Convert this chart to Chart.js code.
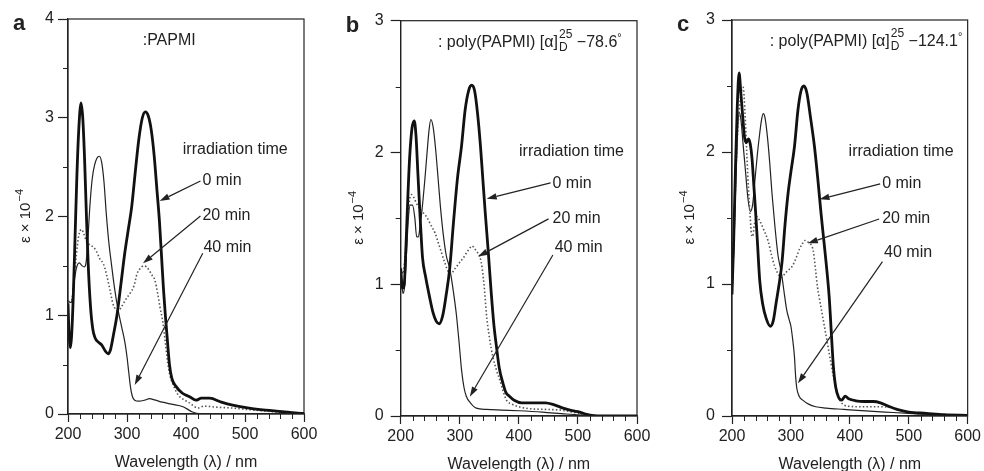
<!DOCTYPE html>
<html>
<head>
<meta charset="utf-8">
<script src="https://cdn.jsdelivr.net/npm/chart.js@4.4.1/dist/chart.umd.min.js"></script>
<style>
  html, body { margin: 0; padding: 0; background: #fff; }
  #wrap { position: relative; width: 984px; height: 471px; overflow: hidden; }
  canvas { position: absolute; top: 0; }
</style>
</head>
<body>
<div id="wrap">
  <canvas id="panelA" width="328" height="471" style="left:0px"></canvas>
  <canvas id="panelB" width="328" height="471" style="left:328px"></canvas>
  <canvas id="panelC" width="328" height="471" style="left:656px"></canvas>
</div>
<script>
// ---- data: [wavelength nm, epsilon x 1e-4] ----
const seriesLabels = ['0 min', '20 min', '40 min'];

// panel a : PAPMI
const a0min = [[200,1.12],[202,0.78],[204,0.67],[206,0.78],[209,1.2],[212,1.8],[215,2.4],[218,2.85],[222,3.15],[225,3.0],[228,2.6],[231,2.05],[234,1.55],[238,1.1],[242,0.86],[246,0.77],[251,0.73],[257,0.7],[263,0.64],[268,0.61],[272,0.65],[277,0.8],[283,1.0],[290,1.33],[296,1.62],[302,1.86],[308,2.1],[314,2.45],[320,2.78],[326,3.0],[331,3.06],[336,3.02],[341,2.88],[346,2.62],[351,2.25],[355,1.95],[359,1.55],[362,1.25],[365,1.0],[368,0.78],[372,0.5],[376,0.36],[383,0.28],[394,0.21],[406,0.175],[417,0.14],[426,0.16],[440,0.16],[460,0.12],[479,0.09],[507,0.06],[535,0.04],[563,0.025],[585,0.01],[600,0.005]];
const a20min = [[200,1.14],[206,1.15],[210,1.35],[214,1.6],[218,1.8],[223,1.87],[227,1.82],[232,1.74],[238,1.71],[243,1.69],[248,1.65],[254,1.57],[260,1.52],[265,1.42],[271,1.26],[276,1.12],[281,1.06],[286,1.05],[292,1.1],[299,1.17],[306,1.23],[312,1.3],[317,1.42],[322,1.47],[328,1.5],[333,1.49],[338,1.45],[343,1.4],[347,1.36],[352,1.22],[356,1.08],[361,0.92],[365,0.72],[369,0.52],[372,0.41],[378,0.3],[386,0.2],[395,0.15],[404,0.12],[411,0.09],[420,0.06],[431,0.08],[450,0.07],[479,0.06],[505,0.045],[535,0.03],[565,0.015],[600,0.005]];
const a40min = [[200,1.14],[206,1.13],[210,1.32],[214,1.47],[219,1.53],[224,1.5],[228,1.49],[231,1.55],[234,1.8],[237,2.1],[241,2.38],[245,2.52],[249,2.59],[253,2.61],[257,2.55],[261,2.35],[265,2.02],[269,1.75],[274,1.5],[279,1.27],[285,1.05],[291,0.88],[296,0.74],[300,0.58],[303,0.42],[306,0.27],[309,0.18],[313,0.14],[320,0.13],[330,0.14],[338,0.155],[348,0.14],[360,0.12],[375,0.1],[395,0.074],[411,0.02],[423,0.003],[440,0.003],[600,0.002]];

// panel b : poly(PAPMI) -78.6
const b0min = [[200,1.12],[203,0.97],[206,1.0],[209,1.3],[212,1.65],[215,1.95],[219,2.18],[223,2.24],[226,2.12],[229,1.85],[233,1.5],[237,1.2],[242,1.06],[249,0.9],[255,0.78],[260,0.72],[265,0.7],[271,0.76],[277,0.92],[283,1.12],[289,1.45],[296,1.8],[303,2.05],[309,2.32],[315,2.47],[320,2.51],[325,2.47],[330,2.3],[335,2.05],[339,1.8],[343,1.55],[348,1.26],[353,0.95],[358,0.68],[362,0.53],[367,0.36],[373,0.25],[378,0.18],[384,0.15],[392,0.12],[405,0.1],[420,0.1],[432,0.1],[445,0.1],[460,0.085],[475,0.06],[490,0.04],[503,0.03],[515,0.012],[527,0.003],[540,0],[600,0]];
const b20min = [[200,1.12],[204,1.08],[208,1.25],[212,1.5],[215,1.64],[218,1.68],[222,1.66],[226,1.62],[230,1.59],[237,1.55],[244,1.51],[251,1.45],[258,1.39],[264,1.31],[269,1.24],[275,1.16],[280,1.1],[285,1.08],[292,1.12],[299,1.16],[306,1.2],[313,1.25],[318,1.28],[321,1.29],[325,1.27],[330,1.24],[334,1.21],[338,1.12],[342,0.95],[345,0.78],[350,0.6],[356,0.45],[362,0.35],[368,0.27],[374,0.18],[379,0.12],[388,0.09],[400,0.07],[420,0.055],[445,0.05],[470,0.045],[490,0.03],[505,0.015],[520,0.005],[540,0],[600,0]];
const b40min = [[200,1.12],[202,1.0],[204,0.93],[207,1.0],[210,1.25],[213,1.5],[216,1.6],[220,1.6],[224,1.5],[227,1.36],[230,1.36],[233,1.45],[236,1.56],[241,1.8],[245,2.02],[248,2.17],[251,2.25],[255,2.19],[259,2.03],[263,1.82],[267,1.6],[272,1.38],[277,1.22],[283,1.12],[289,0.95],[294,0.78],[299,0.55],[303,0.35],[307,0.22],[311,0.15],[318,0.1],[328,0.06],[345,0.05],[370,0.045],[400,0.04],[440,0.03],[480,0.015],[520,0.005],[560,0],[600,0]];

// panel c : poly(PAPMI) -124.1
const c0min = [[200,0.92],[203,1.35],[206,1.9],[209,2.35],[212,2.6],[215,2.45],[218,2.28],[221,2.12],[224,2.07],[228,2.1],[231,2.06],[234,1.95],[237,1.75],[240,1.55],[243,1.33],[247,1.03],[252,0.85],[258,0.74],[265,0.68],[270,0.72],[275,0.86],[280,1.0],[285,1.17],[290,1.45],[295,1.68],[300,1.85],[306,2.04],[312,2.32],[317,2.46],[322,2.5],[327,2.45],[333,2.27],[340,2.04],[346,1.78],[351,1.54],[354,1.41],[360,1.15],[365,0.9],[369,0.6],[372,0.38],[376,0.22],[381,0.14],[386,0.12],[392,0.15],[398,0.13],[410,0.115],[425,0.11],[440,0.11],[452,0.1],[465,0.075],[480,0.05],[500,0.03],[530,0.02],[560,0.01],[600,0.005]];
const c20min = [[200,0.95],[203,1.3],[206,1.75],[209,2.1],[212,2.3],[216,2.46],[219,2.49],[222,2.3],[225,2.0],[228,1.72],[231,1.5],[233,1.38],[235,1.36],[238,1.45],[242,1.51],[248,1.47],[254,1.41],[261,1.33],[267,1.22],[272,1.14],[278,1.08],[284,1.05],[290,1.08],[297,1.11],[303,1.14],[309,1.2],[315,1.27],[320,1.31],[323,1.33],[328,1.32],[334,1.3],[338,1.25],[342,1.1],[345,0.98],[348,0.9],[354,0.75],[360,0.6],[364,0.5],[368,0.4],[373,0.28],[378,0.18],[383,0.12],[388,0.09],[395,0.075],[420,0.07],[450,0.07],[475,0.06],[490,0.04],[510,0.02],[540,0.01],[600,0.005]];
const c40min = [[200,0.93],[203,1.25],[206,1.7],[209,2.1],[212,2.3],[215,2.25],[219,2.05],[223,1.85],[227,1.65],[231,1.55],[235,1.6],[239,1.79],[243,1.98],[247,2.14],[250,2.24],[253,2.29],[256,2.26],[260,2.12],[264,1.92],[268,1.68],[273,1.43],[278,1.22],[284,1.08],[289,0.92],[293,0.8],[297,0.73],[300,0.68],[303,0.58],[306,0.45],[308,0.3],[310,0.21],[314,0.15],[320,0.12],[330,0.09],[342,0.07],[360,0.06],[390,0.05],[420,0.04],[460,0.03],[500,0.02],[550,0.01],[600,0.005]];

const xTitle = 'Wavelength (λ) / nm';
const panelTitleA = ':PAPMI';
const rotationB = '−78.6';
const rotationC = '−124.1';

// ---- look ----
const FAM = '"Liberation Sans", Arial, Helvetica, sans-serif';
const INK = '#222';
const FS = 16;

// annotation places are given in data units of each panel
const panels = [
  { id: 'panelA', letter: 'a', yMax: 4, series: [a0min, a20min, a40min],
    area: { left: 68, right: 304, top: 19, bottom: 414 }, yPad: 4,
    title: { text: panelTitleA, at: [326.6, 3.737] },
    irr: [483.5, 2.673],
    notes: [
      { at: [427.8, 2.36],  from: [424.5, 2.36],  to: [355.3, 2.157] },
      { at: [427.8, 2.005], from: [424.5, 2.005], to: [327.1, 1.526] },
      { at: [429.5, 1.681], from: [428.4, 1.627], to: [313.1, 0.294] }
    ] },
  { id: 'panelB', letter: 'b', yMax: 3, series: [b0min, b20min, b40min],
    area: { left: 72.7, right: 309, top: 20.7, bottom: 416 }, yPad: 7,
    title: { rot: rotationB, at: [263, 2.804] },
    irr: [489.1, 2.005],
    notes: [
      { at: [457, 1.762],   from: [453.7, 1.769], to: [345.6, 1.648] },
      { at: [457, 1.496],   from: [450.3, 1.496], to: [331, 1.21] },
      { at: [460.6, 1.276], from: [457.6, 1.222], to: [317, 0.147] }
    ] },
  { id: 'panelC', letter: 'c', yMax: 3, series: [c0min, c20min, c40min],
    area: { left: 76, right: 313, top: 20, bottom: 416 }, yPad: 7,
    title: { rot: rotationC, at: [264, 2.8] },
    irr: [487, 2.0],
    notes: [
      { at: [454.9, 1.758], from: [451.5, 1.758], to: [348.5, 1.642] },
      { at: [454.9, 1.492], from: [449.8, 1.492], to: [328.8, 1.308] },
      { at: [458.2, 1.235], from: [455.4, 1.169], to: [311.9, 0.248] }
    ] }
];

function arrow(ctx, x1, y1, x2, y2) {
  const ang = Math.atan2(y2 - y1, x2 - x1);
  const head = 10, half = 3.2;
  const bx = x2 - head * Math.cos(ang), by = y2 - head * Math.sin(ang);
  ctx.beginPath();
  ctx.moveTo(x1, y1);
  ctx.lineTo(bx, by);
  ctx.stroke();
  ctx.beginPath();
  ctx.moveTo(x2, y2);
  ctx.lineTo(bx + half * Math.sin(ang), by - half * Math.cos(ang));
  ctx.lineTo(bx - half * Math.sin(ang), by + half * Math.cos(ang));
  ctx.closePath();
  ctx.fill();
}

function makeDecor(p) {
  return {
    id: 'decor',
    afterDraw(chart) {
      const { ctx, chartArea: ca, scales: { x, y } } = chart;
      ctx.save();
      ctx.strokeStyle = INK;
      ctx.fillStyle = INK;

      // frame
      ctx.lineWidth = 1.2;
      ctx.strokeRect(ca.left, ca.top, ca.right - ca.left, ca.bottom - ca.top);

      // minor ticks
      ctx.lineWidth = 1;
      ctx.beginPath();
      for (let v = 220; v < 600; v += 20) {
        if (v % 100 === 0) continue;
        const px = Math.round(x.getPixelForValue(v)) + 0.5;
        ctx.moveTo(px, ca.bottom);
        ctx.lineTo(px, ca.bottom + 5);
      }
      for (let v = 0.5; v < p.yMax; v += 1) {
        const py = Math.round(y.getPixelForValue(v)) + 0.5;
        ctx.moveTo(ca.left, py);
        ctx.lineTo(ca.left - 5, py);
      }
      ctx.stroke();

      // panel letter
      ctx.font = `bold 22px ${FAM}`;
      ctx.textAlign = 'left';
      ctx.textBaseline = 'alphabetic';
      ctx.fillText(p.letter, ca.left - 55, ca.top + 11);

      // axis titles
      ctx.font = `${FS}px ${FAM}`;
      ctx.textAlign = 'center';
      ctx.fillText(xTitle, (ca.left + ca.right) / 2, ca.bottom + 53);

      ctx.save();
      ctx.translate(ca.left - 43, (ca.top + ca.bottom) / 2);
      ctx.rotate(-Math.PI / 2);
      ctx.font = `15px ${FAM}`;
      const mainT = 'ε × 10';
      const mw = ctx.measureText(mainT).width;
      ctx.font = `11px ${FAM}`;
      const sw = ctx.measureText('−4').width;
      const x0 = -(mw + sw) / 2;
      ctx.textAlign = 'left';
      ctx.font = `15px ${FAM}`;
      ctx.fillText(mainT, x0, 5);
      ctx.font = `11px ${FAM}`;
      ctx.fillText('−4', x0 + mw + 1, -2);
      ctx.restore();

      // panel title
      ctx.textAlign = 'left';
      ctx.textBaseline = 'alphabetic';
      let tx = x.getPixelForValue(p.title.at[0]);
      const ty = y.getPixelForValue(p.title.at[1]);
      ctx.font = `${FS}px ${FAM}`;
      if (p.title.text) {
        ctx.fillText(p.title.text, tx, ty);
      } else {
        const s1 = ': poly(PAPMI) [α]';
        ctx.fillText(s1, tx, ty);
        tx += ctx.measureText(s1).width;
        ctx.font = `12px ${FAM}`;
        ctx.fillText('25', tx + 1, ty - 9);
        ctx.fillText('D', tx + 1, ty + 4);
        tx += ctx.measureText('25').width + 1;
        ctx.font = `${FS}px ${FAM}`;
        const s2 = ' ' + p.title.rot;
        ctx.fillText(s2, tx, ty);
        tx += ctx.measureText(s2).width;
        ctx.font = `11px ${FAM}`;
        ctx.fillText('°', tx, ty - 6);
      }

      // irradiation notes
      ctx.font = `${FS}px ${FAM}`;
      ctx.textBaseline = 'middle';
      ctx.textAlign = 'center';
      ctx.fillText('irradiation time', x.getPixelForValue(p.irr[0]), y.getPixelForValue(p.irr[1]));
      ctx.textAlign = 'left';
      ctx.lineWidth = 1.2;
      p.notes.forEach((n, i) => {
        ctx.fillText(seriesLabels[i], x.getPixelForValue(n.at[0]), y.getPixelForValue(n.at[1]));
        arrow(ctx,
          x.getPixelForValue(n.from[0]), y.getPixelForValue(n.from[1]),
          x.getPixelForValue(n.to[0]), y.getPixelForValue(n.to[1]));
      });
      ctx.restore();
    }
  };
}

function buildChart(p) {
  const canvas = document.getElementById(p.id);
  const W = canvas.width, H = canvas.height;
  const Y_AXIS_W = 40, X_AXIS_H = 36;
  return new Chart(canvas, {
    type: 'line',
    data: {
      datasets: [
        { label: seriesLabels[0], data: p.series[0], borderColor: '#111', borderWidth: 2.8 },
        { label: seriesLabels[1], data: p.series[1], borderColor: '#555', borderWidth: 1.6, borderDash: [1.5, 2.2] },
        { label: seriesLabels[2], data: p.series[2], borderColor: '#222', borderWidth: 1.2 }
      ]
    },
    options: {
      responsive: false,
      animation: false,
      events: [],
      layout: {
        padding: {
          left: p.area.left - Y_AXIS_W,
          right: W - p.area.right,
          top: p.area.top,
          bottom: H - p.area.bottom - X_AXIS_H
        }
      },
      elements: {
        point: { radius: 0 },
        line: { tension: 0.4, cubicInterpolationMode: 'monotone', fill: false }
      },
      scales: {
        x: {
          type: 'linear', min: 200, max: 600,
          ticks: { stepSize: 100, color: INK, font: { size: FS, family: FAM }, padding: 3, maxRotation: 0, autoSkip: false },
          grid: { drawOnChartArea: false, tickLength: 8, tickColor: INK, tickWidth: 1.2 },
          border: { color: INK, width: 1.2 },
          afterFit: s => { s.height = X_AXIS_H; }
        },
        y: {
          min: 0, max: p.yMax,
          ticks: { stepSize: 1, color: INK, font: { size: FS, family: FAM }, padding: p.yPad },
          grid: { drawOnChartArea: false, tickLength: 10, tickColor: INK, tickWidth: 1.2 },
          border: { color: INK, width: 1.2 },
          afterFit: s => { s.width = Y_AXIS_W; }
        }
      },
      plugins: { legend: { display: false }, tooltip: { enabled: false } }
    },
    plugins: [makeDecor(p)]
  });
}

panels.forEach(buildChart);
</script>
</body>
</html>
